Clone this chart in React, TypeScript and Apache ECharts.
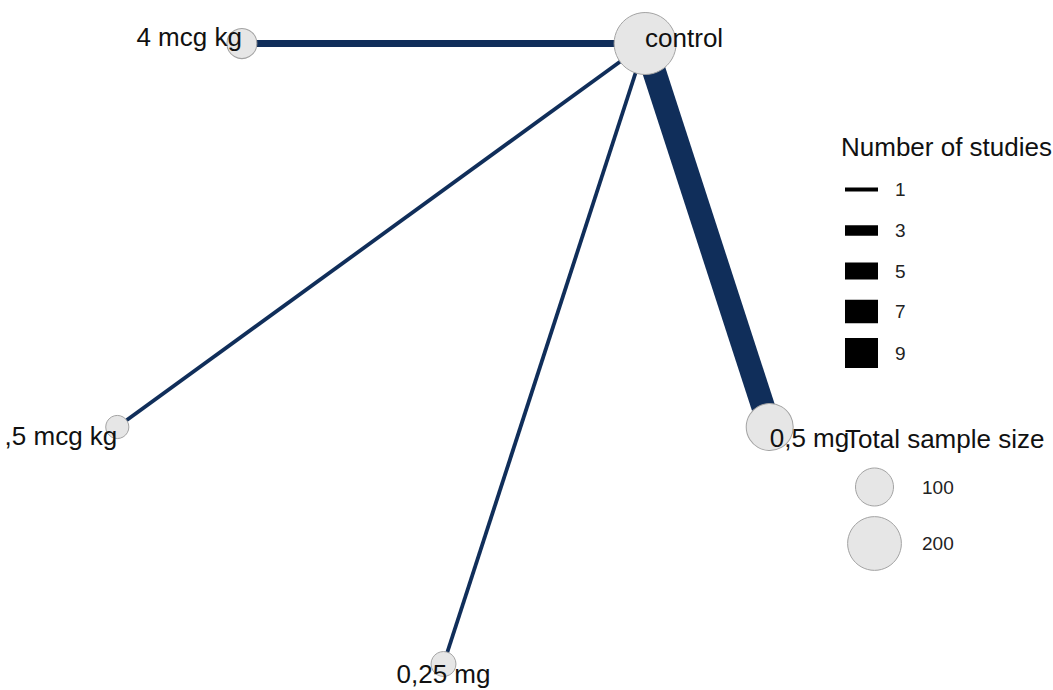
import React, { useEffect, useRef } from "react";
import * as echarts from "echarts";

// ---- data ----
const treatments = ["control", "0,5 mg", "0,25 mg", ",5 mcg kg", "4 mcg kg"];
const sampleSizes = [266, 153, 43, 37, 62];
const edgeFrom = ["control", "control", "control", "control"];
const edgeTo = ["4 mcg kg", ",5 mcg kg", "0,25 mg", "0,5 mg"];
const numberOfStudies = [2, 1, 1, 7];
const studyLegendValues = [1, 3, 5, 7, 9];
const sizeLegendValues = [100, 200];
const studiesTitle = "Number of studies";
const sizeTitle = "Total sample size";

// ---- styles / layout ----
const W = 1053;
const H = 690;
const CX = 443.5;
const CY = 321;
const R = 343;
const FONT = "'Liberation Sans', Arial, Helvetica, sans-serif";
const EDGE_COLOR = "#102e5a";
const NODE_FILL = "#e6e6e6";
const NODE_STROKE = "#a3a3a3";
const LABEL_SIZE = 26;
const KEY_SIZE = 19;

const edgeWidth = (n: number) => 3.3 * n + 0.5;
const nodeDiameter = (n: number) => 3.8 * Math.sqrt(n);

// label placement per node (align, vertical offset)
const labelPlacement: Record<string, { align: string; dy: number }> = {
  control: { align: "left", dy: -6 },
  "0,5 mg": { align: "left", dy: 11 },
  "0,25 mg": { align: "center", dy: 10 },
  ",5 mcg kg": { align: "right", dy: 9 },
  "4 mcg kg": { align: "right", dy: -7 },
};

// circular (pentagon) layout in unit coordinates
const nodePos = (name: string): [number, number] => {
  const i = treatments.indexOf(name);
  const a = ((54 - (360 / treatments.length) * i) * Math.PI) / 180;
  return [Math.cos(a), Math.sin(a)];
};

export default function App() {
  const ref = useRef<HTMLDivElement>(null);

  useEffect(() => {
    if (!ref.current) return;
    const chart = echarts.init(ref.current, null, { renderer: "svg" });

    const edges = edgeFrom.map((f, i) => ({
      coords: [nodePos(f), nodePos(edgeTo[i])],
      lineStyle: { width: edgeWidth(numberOfStudies[i]) },
    }));

    const nodes = treatments.map((t, i) => {
      const p = labelPlacement[t];
      return {
        name: t,
        value: nodePos(t),
        symbolSize: nodeDiameter(sampleSizes[i]),
        label: {
          show: true,
          position: "inside",
          formatter: t,
          align: p.align,
          verticalAlign: "middle",
          offset: [0, p.dy],
          fontSize: LABEL_SIZE,
          fontFamily: FONT,
          color: "#111111",
        },
      };
    });

    const rowYs = [189.5, 230.5, 271, 311.5, 353];
    const graphics: any[] = [
      {
        type: "text",
        x: 841,
        y: 147,
        style: {
          text: studiesTitle,
          fontSize: LABEL_SIZE,
          fontFamily: FONT,
          fill: "#111",
          verticalAlign: "middle",
        },
      },
      {
        type: "text",
        x: 845,
        y: 439,
        style: {
          text: sizeTitle,
          fontSize: LABEL_SIZE,
          fontFamily: FONT,
          fill: "#111",
          verticalAlign: "middle",
        },
      },
    ];
    studyLegendValues.forEach((v, i) => {
      const h = edgeWidth(v);
      graphics.push({
        type: "rect",
        shape: { x: 845, y: rowYs[i] - h / 2, width: 33, height: h },
        style: { fill: "#000" },
      });
      graphics.push({
        type: "text",
        x: 895,
        y: rowYs[i],
        style: {
          text: String(v),
          fontSize: KEY_SIZE,
          fontFamily: FONT,
          fill: "#222",
          verticalAlign: "middle",
          align: "left",
        },
      });
    });
    const sizeRowYs = [487, 543.5];
    sizeLegendValues.forEach((v, i) => {
      graphics.push({
        type: "circle",
        shape: { cx: 874.5, cy: sizeRowYs[i], r: nodeDiameter(v) / 2 },
        style: { fill: NODE_FILL, stroke: NODE_STROKE, lineWidth: 1 },
      });
      graphics.push({
        type: "text",
        x: 922,
        y: sizeRowYs[i],
        style: {
          text: String(v),
          fontSize: KEY_SIZE,
          fontFamily: FONT,
          fill: "#222",
          verticalAlign: "middle",
          align: "left",
        },
      });
    });

    chart.setOption({
      animation: false,
      backgroundColor: "#ffffff",
      grid: { left: 0, top: 0, right: 0, bottom: 0, outerBoundsMode: "none", containLabel: false },
      xAxis: {
        type: "value",
        min: -CX / R,
        max: (W - CX) / R,
        show: false,
      },
      yAxis: {
        type: "value",
        min: -(H - CY) / R,
        max: CY / R,
        show: false,
      },
      series: [
        {
          type: "lines",
          coordinateSystem: "cartesian2d",
          silent: true,
          lineStyle: { color: EDGE_COLOR, opacity: 1, curveness: 0 },
          data: edges,
          z: 1,
        },
        {
          type: "scatter",
          symbol: "circle",
          itemStyle: { color: NODE_FILL, borderColor: NODE_STROKE, borderWidth: 1, opacity: 1 },
          data: nodes,
          z: 2,
        },
      ],
      graphic: graphics,
    });

    return () => chart.dispose();
  }, []);

  return (
    <div
      ref={ref}
      style={{ position: "fixed", left: 0, top: 0, width: W, height: H }}
    />
  );
}
